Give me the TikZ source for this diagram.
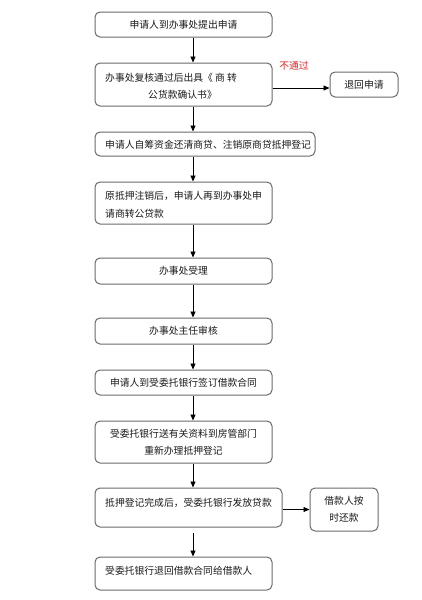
\documentclass[tikz,border=0pt]{standalone}
\usepackage{fontspec}
\newfontfamily\cjk{Noto Sans CJK SC}
\usetikzlibrary{arrows.meta}
\definecolor{boxline}{HTML}{6A6A6A}
\definecolor{txtcol}{HTML}{1A1A1A}
\definecolor{redtxt}{HTML}{E02828}
\tikzset{
  x=1pt, y=-1pt,
  box/.style={draw=boxline, line width=1pt, rounded corners=5pt, inner sep=0pt,
    font=\cjk\fontsize{9.8}{17}\selectfont, text=txtcol, align=center},
  txt/.style={inner sep=0pt, anchor=west, align=left,
    font=\cjk\fontsize{9.8}{17.5}\selectfont, text=txtcol},
  arr/.style={draw=black, line width=0.8pt, -{Triangle[length=6pt,width=5pt]}}
}
\begin{document}
\begin{tikzpicture}
\useasboundingbox[fill=white] (0,0) rectangle (421,600);
% boxes
\node[box, minimum width=177pt, minimum height=25pt] (b1) at (183.5,24.5) {申请人到办事处提出申请};
\node[box, minimum width=177pt, minimum height=43pt] (b2) at (183.5,84.5) {};
\node[box, minimum width=68pt, minimum height=25pt] (r) at (364,84.5) {退回申请};
\node[box, minimum width=220pt, minimum height=24pt] (b3) at (205,144) {};
\node[box, minimum width=177pt, minimum height=42pt] (b4) at (183.5,203) {};
\node[box, minimum width=177pt, minimum height=26pt] (b5) at (183.5,271) {办事处受理};
\node[box, minimum width=177pt, minimum height=26pt] (b6) at (183.5,331) {办事处主任审核};
\node[box, minimum width=177pt, minimum height=25pt] (b7) at (183.5,382.5) {申请人到受委托银行签订借款合同};
\node[box, minimum width=177pt, minimum height=42pt] (b8) at (183.5,442) {受委托银行送有关资料到房管部门\\重新办理抵押登记};
\node[box, minimum width=187pt, minimum height=39pt] (b9) at (188.5,507.5) {};
\node[box, minimum width=68pt, minimum height=43pt] (s) at (344,509.5) {借款人按\\时还款};
\node[box, minimum width=177pt, minimum height=33pt] (b10) at (183.5,573.5) {};
% left-aligned texts
\node[txt] (t2) at (105,86.5) {办事处复核通过后出具《 商 转\\\hspace*{43pt}公货款确认书》};
\node[txt] (t3) at (105,145) {申请人自筹资金还清商贷、注销原商贷抵押登记};
\node[txt] (t4) at (105,205) {原抵押注销后，申请人再到办事处申\\请商转公贷款};
\node[txt] (t9) at (105,503) {抵押登记完成后，受委托银行发放贷款};
\node[txt] (t10) at (105,571) {受委托银行退回借款合同给借款人};
\node[inner sep=0pt, font=\cjk\fontsize{9.8}{12}\selectfont, text=redtxt] (no) at (294,66) {不通过};
% connectors
\coordinate (ax) at (193,0);
\coordinate (ry) at (0,88);
\draw[arr] (b1.south -| ax) -- (b2.north -| ax);
\draw[arr] (b2.south -| ax) -- (b3.north -| ax);
\draw[arr] (b3.south -| ax) -- (b4.north -| ax);
\draw[arr] (b4.south -| ax) -- (b5.north -| ax);
\draw[arr] (b5.south -| ax) -- (b6.north -| ax);
\draw[arr] (b6.south -| ax) -- (b7.north -| ax);
\draw[arr] (b7.south -| ax) -- (b8.north -| ax);
\draw[arr] (b8.south -| ax) -- (b9.north -| ax);
\draw[arr] ([yshift=-5pt]b9.south -| ax) -- (b10.north -| ax);
\draw[arr] (b2.east |- ry) -- (r.west |- ry);
\draw[arr] (b9.east |- s) -- (s.west);
\end{tikzpicture}
\end{document}
